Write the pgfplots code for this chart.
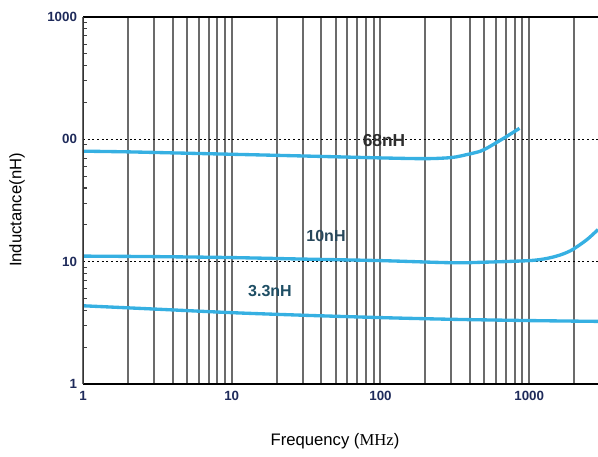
\documentclass[border=0pt]{standalone}
\usepackage{fontspec}
\setmainfont{Liberation Sans}
\newfontfamily\serifmhz{Liberation Serif}
\usepackage{pgfplots}
\pgfplotsset{compat=1.18}
\definecolor{curve}{RGB}{54,176,226}
\definecolor{ticknavy}{RGB}{30,42,90}
\definecolor{lbl68}{RGB}{45,45,45}
\definecolor{lbl10}{RGB}{40,72,92}
\definecolor{lbl33}{RGB}{30,78,100}

\begin{document}
\begin{tikzpicture}
\path[use as bounding box] (0,0) rectangle (448.5pt,342pt);
\begin{axis}[
    at={(62.25pt,54pt)}, anchor=south west,
    scale only axis, width=386.25pt, height=275.25pt,
    xmode=log, ymode=log,
    xmin=1, xmax=2900, ymin=1, ymax=1000,
    xtick={1,10,100,1000}, xticklabels={1,10,100,1000},
    ytick={1,10,100,1000}, yticklabels={1,10,00,1000},
    minor xtick={2,3,4,5,6,7,8,9,20,30,40,50,60,70,80,90,200,300,400,500,600,700,800,900,2000},
    minor ytick={2,3,4,5,6,7,8,9,20,30,40,50,60,70,80,90,200,300,400,500,600,700,800,900},
    xmajorgrids=true, xminorgrids=true, ymajorgrids=true,
    major grid style={draw=black!58, line width=1.5pt},
    minor grid style={draw=black!58, line width=1.5pt},
    y grid style={draw=black, dotted, line width=1pt},
    axis line style={draw=none},
    tick align=inside,
    xtick style={draw=none},
    ytick pos=left,
    major y tick style={draw=none},
    minor y tick style={draw=black!75, line width=0.8pt},
    minor tick length=3pt,
    ticklabel style={font=\bfseries\fontsize{10}{12}\selectfont, text=ticknavy},
    yticklabel style={xshift=-1pt},
    xticklabel style={yshift=-2pt},
    clip=true,
]
\addplot[curve, line width=2.5pt, smooth] coordinates {
(1,80) (2,79) (5,77) (10,75.5) (20,74) (50,72) (100,70.5) (200,69.5) (300,71)
(380,75) (470,80) (540,87) (610,95) (700,105) (780,114) (860,123)};
\addplot[curve, line width=2.5pt, smooth] coordinates {
(1,11.1) (3,11) (10,10.8) (30,10.5) (100,10.2) (300,9.8) (500,9.9) (1000,10.2)
(1300,10.6) (1600,11.3) (1900,12.3) (2200,13.8) (2500,15.5) (2900,18.3)};
\addplot[curve, line width=2.5pt, smooth] coordinates {
(1,4.36) (3,4.1) (10,3.83) (30,3.65) (100,3.49) (300,3.38) (1000,3.3) (2900,3.25)};
\draw[black, line width=1.2pt] (rel axis cs:0,1) -- (rel axis cs:1,1);
\draw[black, line width=1.2pt] (rel axis cs:0,0) -- (rel axis cs:1,0);
\draw[black!80, line width=1.2pt] (rel axis cs:0,0) -- (rel axis cs:0,1);
\end{axis}
\node[font=\bfseries\fontsize{13}{15}\selectfont, text=lbl68] at (288pt,236.25pt) {68nH};
\node[font=\bfseries\fontsize{12}{14}\selectfont, text=lbl10] at (244.5pt,165pt) {10nH};
\node[font=\bfseries\fontsize{12}{14}\selectfont, text=lbl33] at (202.5pt,123.75pt) {3.3nH};
\node[rotate=90, font=\fontsize{12.5}{15}\selectfont] at (12.75pt,184.5pt) {Inductance(nH)};
\node[font=\fontsize{12.5}{15}\selectfont] at (251.25pt,11.25pt) {Frequency ({\serifmhz MHz})};
\end{tikzpicture}
\end{document}
